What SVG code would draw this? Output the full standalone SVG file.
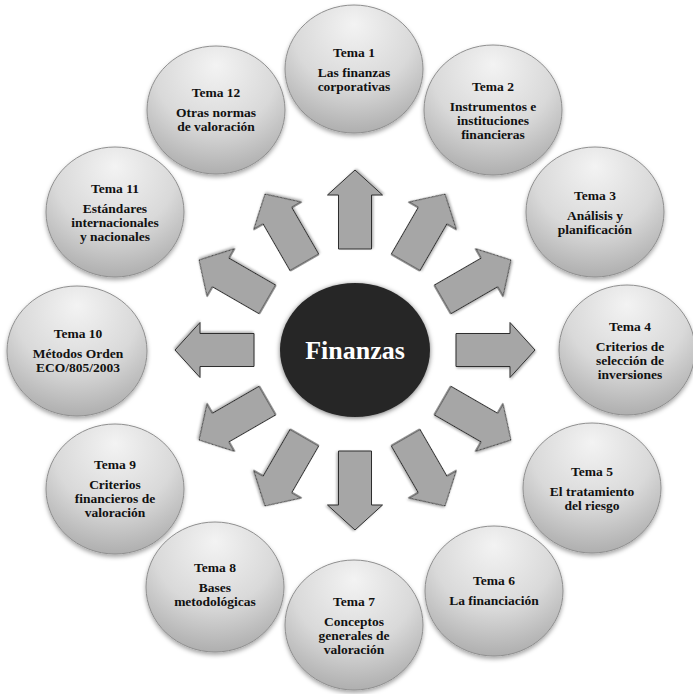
<svg xmlns="http://www.w3.org/2000/svg" xmlns:xlink="http://www.w3.org/1999/xlink" width="693" height="694" viewBox="0 0 693 694">
<style>
.c{fill:url(#cg);stroke:#8f8f8f;stroke-width:1;filter:url(#sh)}
.t{font-family:"Liberation Serif","Times New Roman",serif;font-weight:bold;font-size:13.5px;fill:#111;text-anchor:middle}
.a{fill:#a6a6a6;stroke:#2e2e2e;stroke-width:1;stroke-linejoin:miter;filter:url(#ash)}
</style>
<defs>
<radialGradient id="cg" cx="50%" cy="25%" r="80%" fx="50%" fy="15%">
<stop offset="0" stop-color="#f3f3f3"/>
<stop offset="0.55" stop-color="#d9d9d9"/>
<stop offset="1" stop-color="#a9a9a9"/>
</radialGradient>
<filter id="sh" x="-20%" y="-20%" width="140%" height="150%">
<feDropShadow dx="0" dy="2.5" stdDeviation="2" flood-color="#000" flood-opacity="0.35"/>
</filter>
<filter id="ash" x="-30%" y="-30%" width="160%" height="160%">
<feDropShadow dx="1" dy="1.5" stdDeviation="1" flood-color="#000" flood-opacity="0.3"/>
</filter>
<filter id="csh" x="-20%" y="-20%" width="140%" height="140%">
<feDropShadow dx="0" dy="1" stdDeviation="2.5" flood-color="#000" flood-opacity="0.55"/>
</filter>
<polygon id="arr" points="101,-16.5 155,-16.5 155,-27.5 180,0 155,27.5 155,16.5 101,16.5"/>
</defs>
<rect width="693" height="694" fill="#fff"/>

<g id="connectors">
<use xlink:href="#arr" class="a" transform="translate(355,350) rotate(-90)"/>
<use xlink:href="#arr" class="a" transform="translate(355,350) rotate(-60)"/>
<use xlink:href="#arr" class="a" transform="translate(355,350) rotate(-30)"/>
<use xlink:href="#arr" class="a" transform="translate(355,350) rotate(0)"/>
<use xlink:href="#arr" class="a" transform="translate(355,350) rotate(30)"/>
<use xlink:href="#arr" class="a" transform="translate(355,350) rotate(60)"/>
<use xlink:href="#arr" class="a" transform="translate(355,350) rotate(90)"/>
<use xlink:href="#arr" class="a" transform="translate(355,350) rotate(120)"/>
<use xlink:href="#arr" class="a" transform="translate(355,350) rotate(150)"/>
<use xlink:href="#arr" class="a" transform="translate(355,350) rotate(180)"/>
<use xlink:href="#arr" class="a" transform="translate(355,350) rotate(210)"/>
<use xlink:href="#arr" class="a" transform="translate(355,350) rotate(240)"/>
</g>

<g id="center">
<ellipse cx="355" cy="350" rx="75" ry="67" fill="#262626" filter="url(#csh)"/>
<text x="355" y="359" font-family="'Liberation Serif','Times New Roman',serif" font-weight="bold" font-size="26" fill="#fff" text-anchor="middle">Finanzas</text>
</g>

<g id="tema1">
<ellipse class="c" cx="354" cy="69" rx="69" ry="64"/>
<text class="t" x="354" y="57">Tema 1</text>
<text class="t" x="354" y="77">Las finanzas</text>
<text class="t" x="354" y="91">corporativas</text>
</g>
<g id="tema2">
<ellipse class="c" cx="493" cy="110" rx="69" ry="65"/>
<text class="t" x="493" y="91">Tema 2</text>
<text class="t" x="493" y="111">Instrumentos e</text>
<text class="t" x="493" y="125">instituciones</text>
<text class="t" x="493" y="139">financieras</text>
</g>
<g id="tema3">
<ellipse class="c" cx="595" cy="212" rx="69" ry="65"/>
<text class="t" x="595" y="200">Tema 3</text>
<text class="t" x="595" y="220">Análisis y</text>
<text class="t" x="595" y="234">planificación</text>
</g>
<g id="tema4">
<ellipse class="c" cx="627" cy="350" rx="68" ry="65"/>
<text class="t" x="630" y="331">Tema 4</text>
<text class="t" x="630" y="351">Criterios de</text>
<text class="t" x="630" y="365">selección de</text>
<text class="t" x="630" y="379">inversiones</text>
</g>
<g id="tema5">
<ellipse class="c" cx="592" cy="488" rx="69" ry="65"/>
<text class="t" x="592" y="476">Tema 5</text>
<text class="t" x="592" y="496">El tratamiento</text>
<text class="t" x="592" y="510">del riesgo</text>
</g>
<g id="tema6">
<ellipse class="c" cx="494" cy="591" rx="69" ry="65"/>
<text class="t" x="494" y="585">Tema 6</text>
<text class="t" x="494" y="605">La financiación</text>
</g>
<g id="tema7">
<ellipse class="c" cx="354" cy="625" rx="69" ry="65"/>
<text class="t" x="354" y="606">Tema 7</text>
<text class="t" x="354" y="626">Conceptos</text>
<text class="t" x="354" y="640">generales de</text>
<text class="t" x="354" y="654">valoración</text>
</g>
<g id="tema8">
<ellipse class="c" cx="215" cy="587" rx="69" ry="65"/>
<text class="t" x="215" y="572">Tema 8</text>
<text class="t" x="215" y="592">Bases</text>
<text class="t" x="215" y="606">metodológicas</text>
</g>
<g id="tema9">
<ellipse class="c" cx="115" cy="489" rx="69" ry="65"/>
<text class="t" x="115" y="469">Tema 9</text>
<text class="t" x="115" y="489">Criterios</text>
<text class="t" x="115" y="503">financieros de</text>
<text class="t" x="115" y="517">valoración</text>
</g>
<g id="tema10">
<ellipse class="c" cx="77" cy="351" rx="70" ry="65"/>
<text class="t" x="78" y="338">Tema 10</text>
<text class="t" x="78" y="358">Métodos Orden</text>
<text class="t" x="78" y="372">ECO/805/2003</text>
</g>
<g id="tema11">
<ellipse class="c" cx="115" cy="212" rx="69" ry="65"/>
<text class="t" x="115" y="193">Tema 11</text>
<text class="t" x="115" y="213">Estándares</text>
<text class="t" x="115" y="227">internacionales</text>
<text class="t" x="115" y="241">y nacionales</text>
</g>
<g id="tema12">
<ellipse class="c" cx="216" cy="110" rx="69" ry="64"/>
<text class="t" x="216" y="97">Tema 12</text>
<text class="t" x="216" y="117">Otras normas</text>
<text class="t" x="216" y="131">de valoración</text>
</g>
</svg>
